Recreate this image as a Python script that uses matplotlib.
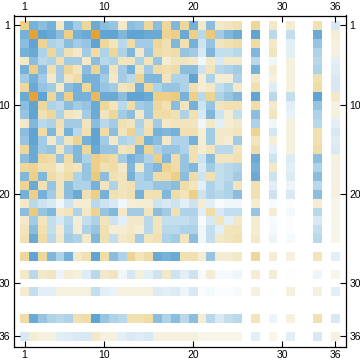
import numpy as np
import matplotlib
matplotlib.use('Agg')
import matplotlib.pyplot as plt
from matplotlib.colors import LinearSegmentedColormap

# indices of the rows/columns that have values, the rest stay white
active = list(range(1, 26)) + [27, 29, 31, 34, 36]

r1 = [-5,6,5,6,-2,6,4,-4,6.5,5,4.5,-2,5,4.5,-4,5,-4,5.5, -4,6,-2,5,-2,-2.5,-3, -4,-2,-1.5,-3,1.5]
r2 = [6,-9,7,6.5,5,-5,6,6.5,-9,7,7,5.5,7,7,6.5,6.5,-4.5,-5, 6.5,-5,3,-5.5,4,5.5,6.5, 7,3,2.5,6.5,-1.5]
r3 = [5,7,-4.5,3.5,3,5,4,4.5,7,-4,-2.5,3,-3.5,4,4,-4,-3,5.5, -3,6,2,4.5,-2.5,-3,-3.5, -3.5,-2,1,4.5,-1]
r4 = [6,6.5,3.5,-4,3.5,-3,-2,4,-3.5,3.5,-4,3.5,5.5,-2,4.5,-3.5,-3,-3.5, 4.5,4,1.5,5.5,2.5,2.5,3, 5.5,-2.5,1,3.5,-1]
r5 = [-2,5,3,3.5,-3,4,4,-2,5,3,3.5,-2.5,-2.5,3.5,-2.5,4.5,-1.5,-2.5, -2.5,-2,.5,-2,1.5,-2,-2, 3,.5,-1,3,1]
r6 = [6,-5,5,-3,4,-4,-2.5,5,-4.5,5,-2.5,4,6,-2.5,4,-3.5,-3,-3.5, 5,5,2,-2.5,3,3.5,4, 6,-1.5,-1,3.5,1.2]
r7 = [4,6,4,-2,4,-2.5,-3.5,6,6,4,-2,4,3,-4.5,5.5,5.5,-2.5,3.5, 3.5,7,-1.5,3.5,-1.5,-1.5,3.5, -2,-1,-1,-3,1.5]
r8 = [-4,6.5,4.5,4,-2,5,6,-4,6,4.5,4,-2.5,-3,6,-4,3.5,4.5,4.5, 3.5,-3,-1.5,-2,2.5,3.5,-2, -3,1.2,-1,-3.5,1.5]
r9 = [6.5,-9,7,-4,5,-5,6,6,-7,6.5,6.5,5,7,7,6.5,-5,-5,-5.5, 6,-5,3,-4.5,3.5,4.5,5.5, 7,3,2.5,7,-2]
r10 = [5,7,-4,3.5,3,5,4,4.5,6.5,-4,-2.5,3,-3.5,4,4.5,-4,-3,5, -2.5,6,2,4.5,-2.5,-3,-3, -3.5,-2,1,4.5,-1]
r11 = [4.5,7,-3,-4,3.5,-2.5,-2,4,6.5,-2.5,-4,4,5,-2,4.5,-3.5,-3.5,-3, 3.5,-3,1.5,5.5,2,-1.5,2.5, 5,-2.5,.8,3.5,-1]
r12 = [-2,5.5,3,3.5,-3,4,4,-2.5,5,3,4,-3,-2.5,3.5,-2.5,4,-2,-2.5, -2.5,-2.5,.5,-2,1,-1.5,-2, 3.5,.5,-1,3,1]
r13 = [5,7,-3.5,5.5,-2.5,6,3,-3,7,-3.5,5,-2.5,-4.5,3,-3,6,5.5,6, -3,-3,-1.2,4,-2,-2,-2.5, -4.5,1.7,-1,-3,1.5]
r14 = [4.5,7,4,-2,3.5,-2.5,-4.5,6,7,4,-2,3.5,3,-4,6,5,-2,3.5, 3.5,6,-1.5,4,-2,-1.5,4, -2.5,-1.3,-1,-3,1.2]
r15 = [-4,6.5,4,4.5,-2.5,4,5.5,-4,6.5,4.5,4.5,-2.5,-3,6,-4.5,3.5,4.5,4.5, 3.5,-3,-1.5,-2.5,3,3,-2.5, -3.5,1,-1,-3.5,1.5]
r16 = [5,6.5,-4,-3.5,4.5,-3.5,5.5,3.5,-5,-4,-3.5,4,6,5,3.5,-5,5.5,-3.5, 4.5,-3,2,5,-2.5,-2.5,-3, 6.5,2,1.3,5,-1]
r17 = [-4,-4.5,-3,-3,-1.5,-3,-2.5,4.5,-5,-3,-3.5,-2,5.5,-2,4.5,5.5,-4.5,-3.5, 4.5,5.5,1.5,4,2.5,3,3.5, 6,-2,1,3.5,-1]
r18 = [5.5,-5,5.5,-3.5,-2.5,-3.5,3.5,4.5,-5.5,5,-3,-2.5,6,3.5,4.5,-3.5,-3.5,-5, 5,-3.5,2,-3,2.5,3,4, 6.5,2,1.3,5,-1]
r19 = [-4.5,6.5,-3,4.5,-2.5,5,3.5,3.5,6,-2.5,3.5,-2.5,-3,3.5,3.5,4.5,4.5,5, -3.5,-2.5,1,3.5,2.5,3.5,-2.5, -3,1,.6,3,-1]
r20 = [6,-5,6,4,-2.5,5,6.5,-3,-5,6,-3,-2.5,-3,6,-3,-3,5.5,-3.5, -2.5,-5,2,3.5,3,3.5,5, -3,2,1.5,5,-1]
r21 = [-2,3,2,1.5,.5,2,-1.5,-1.5,3,2,1.5,.5,-1.2,-1.5,-1.5,2,1.5,2, 1,2,-1.5,1,.3,.5,.5, -1.5,.3,.2,-1.5,-.7]
r22 = [5,-5.5,4.5,5.5,-2,-2.5,3.5,-2,-4.5,4.5,5.5,-2,4,4,-2.5,5,4,-3, 3.5,3.5,1,-3.5,1.5,2.5,2.5, 4.5,-1.5,.4,3,-.7]
r23 = [-2,4,-2.5,2.5,1.5,3,-1.5,2.5,3.5,-2.5,2,1,-2,-2,3,-2.5,2.5,2.5, 2.5,3,.3,1.5,-2.5,1,-2, -1.5,.3,.2,1.5,-.7]
r24 = [-2.5,5,-3,2.5,-1.5,3.5,-1.5,3.5,4.5,-3,-1.5,-1.5,-2,-1.5,3,-2.5,3,3, 3.5,3.5,.5,2.5,1,-2.5,-2.5, -1.5,.4,.2,2.5,-.7]
r25 = [-3,6.5,-3.5,3,-2,4,3.5,-2,5.5,-3,2.5,-2,-2.5,4,-2.5,-3,3.5,4, -2.5,5,.5,2.5,-2,-2.5,-3, -2,.6,.3,3,-.7]
r27 = [-4,7,-4,5.5,3.5,6,-2,-3,7,-3.5,5,3.5,-4.5,-2.5,-3.5,6.5,6,6.5, -3,-3,-1.5,4.5,-1.5,-1.5,-2, -4,-1.5,-1,-2.5,1]
r29 = [-2,3,-2,-2.5,.7,-1.5,-1,1.2,3,-2,-2.5,.5,1.7,-1.3,1,2,-2,2, 1,2,.3,-1.5,.3,.3,.5, -1.5,-1.5,.1,.6,-.7]
r31 = [-1.5,2.5,1,1,-1,-1,-1,-1,2.5,1,.8,-1,-1,-1,-1,1.3,1,1.3, .6,1.5,.2,.4,.2,.2,.3, -1,.1,-1,-1,1]
r34 = [-3.5,6.5,4.5,3.5,3,3.5,-3,-3.5,7,4.5,3.5,3,-3,-3,-3.5,5,3.5,5, 3,5,-1.5,3,1.5,2.5,3, -2.5,.6,-1,-3,1.5]
r36 = [1.5,-1.5,-1,-1,1,1.2,1.5,1.5,-2,-1,-1,1,1.5,1.2,1.5,-1,-1,-1, -1,-1,-.7,-.7,-.7,-.7,-.7, 1,-.7,1,1.5,-1]

rows = [r1, r2, r3, r4, r5, r6, r7, r8, r9, r10, r11, r12, r13, r14, r15, r16, r17, r18,
        r19, r20, r21, r22, r23, r24, r25, r27, r29, r31, r34, r36]
tick_vals = [1, 10, 20, 30, 36]

matrix = np.full((36, 36), np.nan)
idx = np.array(active) - 1
matrix[np.ix_(idx, idx)] = np.array(rows, dtype=float)


def pos(v):
    return (v + 9) / 18


cmap = LinearSegmentedColormap.from_list('temp', [
    (pos(-9), '#e9a12f'),
    (pos(-5), '#edd088'),
    (pos(-4), '#eed79b'),
    (pos(-3), '#f1e0b2'),
    (pos(-2), '#f3e9c9'),
    (pos(-1), '#f5f1de'),
    (pos(0), '#ffffff'),
    (pos(1), '#e3eff6'),
    (pos(3), '#b9d8ea'),
    (pos(5), '#8dbedd'),
    (pos(7), '#5fa4d3'),
    (pos(9), '#4a94cc'),
])
cmap.set_bad('white')

plt.rcParams['font.family'] = ['Liberation Sans', 'DejaVu Sans']

fig = plt.figure(figsize=(3.6, 3.63), dpi=100)
ax = fig.add_axes([13.7 / 360, 1 - 347 / 363, 332.3 / 360, 331.5 / 363])
edges = np.arange(0.5, 37.5)
ax.pcolormesh(edges, edges, np.ma.masked_invalid(matrix), cmap=cmap, vmin=-9, vmax=9, linewidth=0)
ax.set_xlim(-0.22, 37.22)
ax.set_ylim(37.2, -0.12)

ax.set_xticks(tick_vals)
ax.set_yticks(tick_vals)
ax.tick_params(direction='in', length=4.5, width=0.8, top=True, right=True,
               labeltop=True, labelright=True, labelsize=7.5, pad=2.5, colors='black')
for s in ax.spines.values():
    s.set_linewidth(0.9)

fig.savefig('out.png', dpi=100)
